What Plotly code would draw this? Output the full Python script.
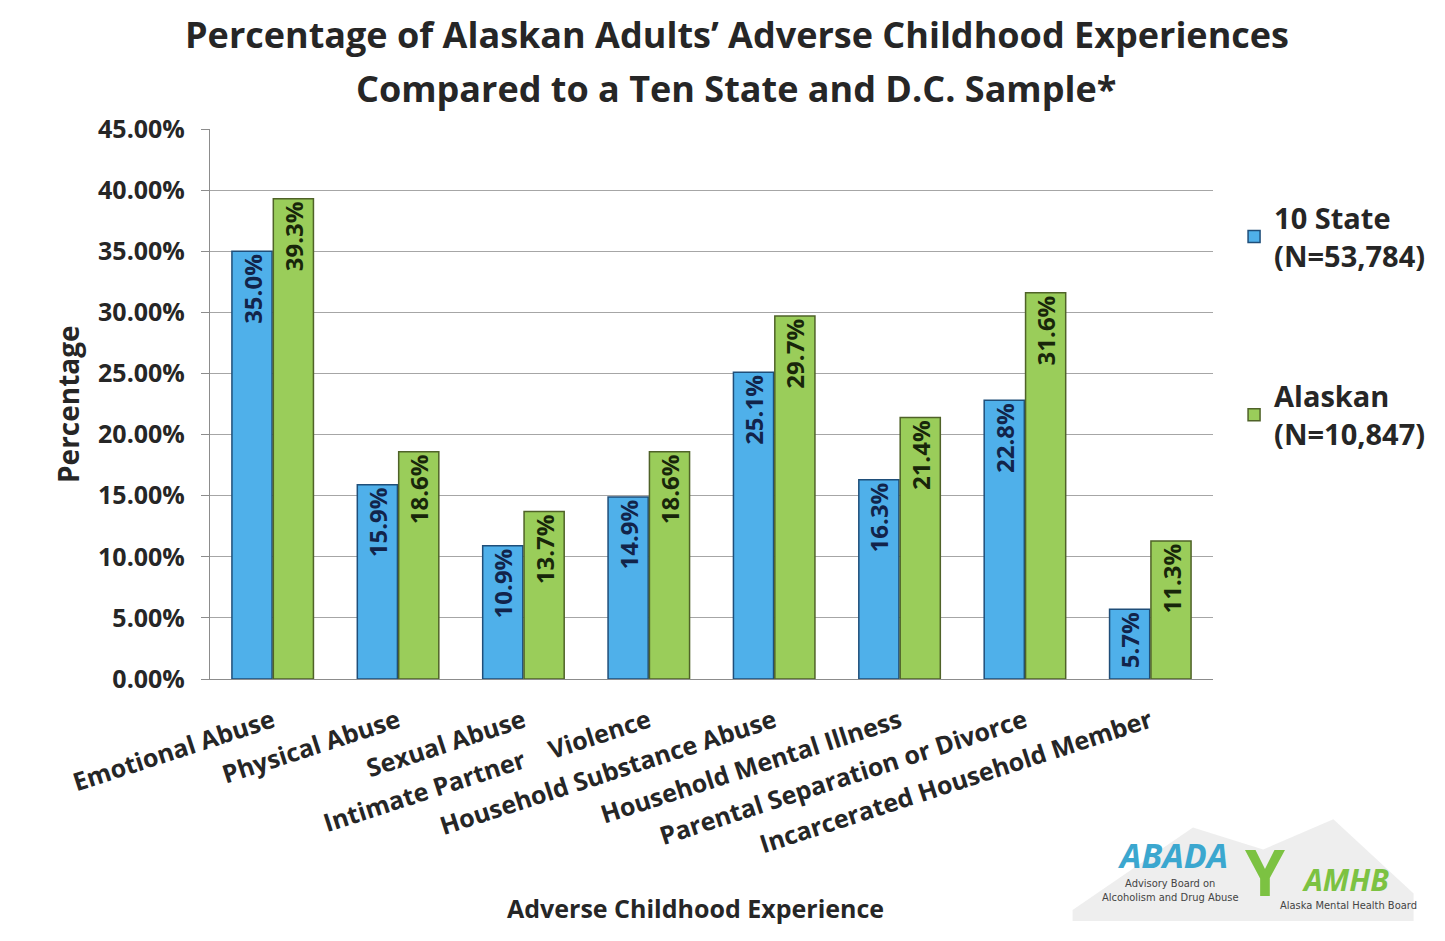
import plotly.graph_objects as go

categories = ["Emotional Abuse", "Physical Abuse", "Sexual Abuse",
              "Intimate Partner\u00a0\u00a0\u00a0\u00a0Violence", "Household Substance Abuse",
              "Household Mental Illness", "Parental Separation or Divorce",
              "Incarcerated Household Member"]
ten_state = [35.0, 15.9, 10.9, 14.9, 25.1, 16.3, 22.8, 5.7]
alaskan = [39.3, 18.6, 13.7, 18.6, 29.7, 21.4, 31.6, 11.3]
series_names = ["10 State<br>(N=53,784)", "Alaskan<br>(N=10,847)"]
y_ticks = [0, 5, 10, 15, 20, 25, 30, 35, 40, 45]
y_tick_text = [f"{v:.2f}%" for v in y_ticks]

FONT = "Open Sans"
TXT = "#262626"
SMALL = "Liberation Sans Narrow, DejaVu Sans Condensed, sans-serif"

fig = go.Figure()
fig.add_trace(go.Bar(
    x=categories, y=ten_state, name=series_names[0], legendgroup="a",
    marker=dict(color="#4fb0ea", line=dict(color="#1f4e79", width=1.5)),
    text=[f"{v:.1f}%" for v in ten_state], textposition="inside",
    insidetextanchor="end", textangle=-90,
    textfont=dict(family=FONT, size=24, color="#12244a", weight="bold"),
))
fig.add_trace(go.Bar(
    x=categories, y=alaskan, name=series_names[1], legendgroup="b",
    marker=dict(color="#9acd5a", line=dict(color="#4f6228", width=1.5)),
    text=[f"{v:.1f}%" for v in alaskan], textposition="inside",
    insidetextanchor="end", textangle=-90,
    textfont=dict(family=FONT, size=24, color="#18260a", weight="bold"),
))

# page body has an 8px margin, so the figure is 8px smaller and offsets shrink by 8
fig.update_layout(
    width=1437, height=933,
    paper_bgcolor="white", plot_bgcolor="white",
    margin=dict(l=202, r=232, t=121, b=262),
    barmode="group", bargap=0.34, bargroupgap=0.03,
    uniformtext=dict(minsize=24, mode="show"),
    font=dict(family=FONT, color=TXT),
    legend=dict(
        x=1.021, y=0.885, xanchor="left", yanchor="top",
        font=dict(family=FONT, size=29, color=TXT, weight="bold"),
        tracegroupgap=100, traceorder="grouped", bgcolor="rgba(0,0,0,0)",
    ),
    showlegend=True,
)
fig.update_yaxes(
    range=[0, 45], tickvals=y_ticks, ticktext=y_tick_text,
    showgrid=True, gridcolor="#a6a6a6", gridwidth=1.2,
    showline=True, linecolor="#8c8c8c", linewidth=1.2,
    ticks="outside", ticklen=8, tickcolor="#8c8c8c", ticklabelstandoff=11,
    tickfont=dict(family=FONT, size=25, color=TXT, weight="bold"),
    zeroline=False,
)
fig.update_xaxes(
    tickangle=-18, showline=True, linecolor="#8c8c8c", linewidth=1.2,
    tickfont=dict(family=FONT, size=25, color=TXT, weight="bold"),
    ticklabelstandoff=17, automargin=False,
)

# title (two lines)
fig.add_annotation(text="<b>Percentage of Alaskan Adults\u2019 Adverse Childhood Experiences</b>",
                   xref="paper", yref="paper", x=0.5254, y=1.171, xanchor="center", yanchor="middle",
                   showarrow=False, font=dict(family=FONT, size=36, color=TXT))
fig.add_annotation(text="<b>Compared to a Ten State and D.C. Sample*</b>",
                   xref="paper", yref="paper", x=0.524, y=1.0745, xanchor="center", yanchor="middle",
                   showarrow=False, font=dict(family=FONT, size=36, color=TXT))

# axis titles
fig.add_annotation(text="<b>Percentage</b>", xref="paper", yref="paper",
                   x=-0.1416, y=0.5, xanchor="center", yanchor="middle",
                   textangle=-90, showarrow=False,
                   font=dict(family=FONT, size=28, color=TXT))
fig.add_annotation(text="<b>Adverse Childhood Experience</b>", xref="paper", yref="paper",
                   x=0.4836, y=-0.416, xanchor="center", yanchor="middle", showarrow=False,
                   font=dict(family=FONT, size=25, color=TXT))

# logo (decorative)
fig.add_shape(type="path", xref="paper", yref="paper",
              path="M 0.86,-0.42 L 0.98,-0.27 L 1.05,-0.31 L 1.12,-0.255 L 1.2,-0.39 L 1.2,-0.44 L 0.86,-0.44 Z",
              fillcolor="rgba(200,200,200,0.3)", line=dict(width=0), layer="below")
fig.add_annotation(text="<i><b>ABADA</b></i>", xref="paper", yref="paper", x=0.960, y=-0.32,
                   xanchor="center", yanchor="middle",
                   showarrow=False, font=dict(family=FONT, size=34, color="#3ba7cf"))
fig.add_annotation(text="Advisory Board on<br>Alcoholism and Drug Abuse", xref="paper", yref="paper",
                   x=0.958, y=-0.385, xanchor="center", yanchor="middle", showarrow=False,
                   font=dict(family=SMALL, size=11, color="#444"))
fig.add_annotation(text="<b>Y</b>", xref="paper", yref="paper", x=1.052, y=-0.35,
                   xanchor="center", yanchor="middle",
                   showarrow=False, font=dict(family=FONT, size=64, color="#7cc242"))
fig.add_annotation(text="<i><b>AMHB</b></i>", xref="paper", yref="paper", x=1.132, y=-0.365,
                   xanchor="center", yanchor="middle",
                   showarrow=False, font=dict(family=FONT, size=30, color="#7cc242"))
fig.add_annotation(text="Alaska Mental Health Board", xref="paper", yref="paper",
                   x=1.135, y=-0.411, xanchor="center", yanchor="middle", showarrow=False,
                   font=dict(family=SMALL, size=11, color="#444"))

fig.write_html("out.html")
